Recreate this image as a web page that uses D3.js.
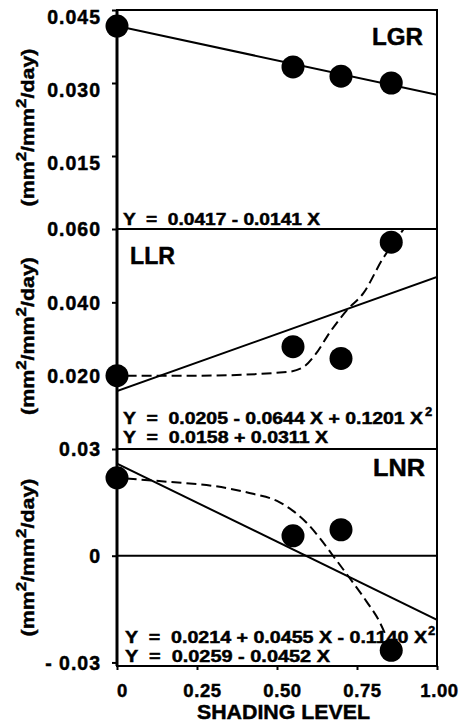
<!DOCTYPE html>
<html>
<head>
<meta charset="utf-8">
<script src="https://cdn.jsdelivr.net/npm/d3@7/dist/d3.min.js"></script>
<style>
  body { margin: 0; background: #fff; }
  svg { display: block; }
  text { font-family: "Liberation Sans", Arial, sans-serif; font-weight: bold; fill: #000;
         stroke: #000; stroke-width: 0.45px; }
</style>
</head>
<body>
<svg width="460" height="722"></svg>
<script>
// Valeurs (niveau d'ombrage en x)
const shading = [0, 0.55, 0.70, 0.857];
const lgrValues = [0.0417, 0.0333, 0.0314, 0.0300];
const llrValues = [0.0200, 0.0279, 0.0247, 0.0564];
const lnrValues = [0.0219, 0.0056, 0.0073, -0.0266];

// droites de régression (extrémités lues à x = 0 et x = 1)
const fitX = [0, 1];
const lgrFitY = [0.0417, 0.0276];
const llrFitY = [0.0158, 0.0469];
const lnrFitY = [0.0259, -0.0180];

// courbes en tirets (points relevés le long du tracé)
const llrCurveX = [0.03, 0.26, 0.53, 0.58, 0.62, 0.665, 0.72, 0.77, 0.83, 0.875, 0.93];
const llrCurveY = [0.0200, 0.0200, 0.0210, 0.0222, 0.0258, 0.0318, 0.0380, 0.0425, 0.0518, 0.0575, 0.0640];
const lnrCurveX = [0.03, 0.156, 0.31, 0.425, 0.50, 0.55, 0.59, 0.635, 0.675, 0.728, 0.78, 0.82, 0.84];
const lnrCurveY = [0.0217, 0.0208, 0.0195, 0.0174, 0.0154, 0.0126, 0.0095, 0.0048, 0.0000, -0.0064, -0.0129, -0.0185, -0.0224];

// graduations
const xTicks = [0, 0.25, 0.5, 0.75, 1];
const xTickLabels = ["0", "0.25", "0.50", "0.75", "1.00"];
const lgrTicks = [0.045, 0.030, 0.015];
const lgrTickLabels = ["0.045", "0.030", "0.015"];
const llrTicks = [0.060, 0.040, 0.020];
const llrTickLabels = ["0.060", "0.040", "0.020"];
const lnrTicks = [0.03, 0, -0.03];
const lnrTickLabels = ["0.03", "0", "- 0.03"];

const svg = d3.select("svg");
const x = d3.scaleLinear().domain([0, 1]).range([117, 437]);

// trois panneaux empilés
const panels = [
  { name: "LGR", values: lgrValues, fitY: lgrFitY, domain: [0, 0.045], top: 10, bottom: 229,
    ticks: lgrTicks, labels: lgrTickLabels, labelShift: 7,
    nameX: 372, nameY: 45, nameLen: 51,
    eqs: [{ t: "Y  =  0.0417 - 0.0141 X", x: 123, y: 225, len: 197 }] },
  { name: "LLR", values: llrValues, fitY: llrFitY, domain: [0, 0.06], top: 229, bottom: 449,
    ticks: llrTicks, labels: llrTickLabels, labelShift: 0,
    curveX: llrCurveX, curveY: llrCurveY,
    nameX: 130, nameY: 264, nameLen: 45,
    eqs: [{ t: "Y  =  0.0205 - 0.0644 X + 0.1201 X", x: 123, y: 424, len: 300, sup: 425 },
          { t: "Y  =  0.0158 + 0.0311 X", x: 123, y: 443, len: 205 }] },
  { name: "LNR", values: lnrValues, fitY: lnrFitY, domain: [-0.031, 0.03], top: 449, bottom: 666,
    ticks: lnrTicks, labels: lnrTickLabels, labelShift: 0, zeroLine: true,
    curveX: lnrCurveX, curveY: lnrCurveY,
    nameX: 373, nameY: 476, nameLen: 52,
    eqs: [{ t: "Y  =  0.0214 + 0.0455 X - 0.1140 X", x: 125, y: 643, len: 302, sup: 428 },
          { t: "Y  =  0.0259 - 0.0452 X", x: 125, y: 662, len: 205 }] }
];

panels.forEach((p, i) => {
  const y = d3.scaleLinear().domain(p.domain).range([p.bottom, p.top]);
  const g = svg.append("g");

  g.append("clipPath").attr("id", "clip" + i)
    .append("rect").attr("x", x(0)).attr("y", p.top).attr("width", x(1) - x(0)).attr("height", p.bottom - p.top);

  // axe vertical
  const axis = d3.axisLeft(y).tickValues(p.ticks).tickSize(5)
    .tickFormat((d, k) => p.labels[k]);
  const ga = g.append("g").attr("transform", `translate(${x(0)},0)`).call(axis);
  ga.select(".domain").remove();
  ga.selectAll(".tick line").attr("stroke", "#000").attr("stroke-width", 2);
  ga.selectAll(".tick text")
    .attr("x", -16).attr("dy", "0.35em")
    .attr("transform", `translate(0,${p.labelShift})`)
    .style("font-size", "19.5px").style("letter-spacing", "1px")
    .attr("fill", "#000");

  // cadre
  g.append("rect").attr("x", x(0)).attr("y", p.top)
    .attr("width", x(1) - x(0)).attr("height", p.bottom - p.top)
    .attr("fill", "none").attr("stroke", "#000").attr("stroke-width", 2);
  g.append("line").attr("x1", x(0)).attr("x2", x(0)).attr("y1", p.top).attr("y2", p.bottom)
    .attr("stroke", "#000").attr("stroke-width", 3);

  if (p.zeroLine) {
    g.append("line").attr("x1", x(0)).attr("x2", x(1)).attr("y1", y(0)).attr("y2", y(0))
      .attr("stroke", "#000").attr("stroke-width", 2);
  }

  const plot = g.append("g").attr("clip-path", `url(#clip${i})`);

  // droite de régression
  const line = d3.line().x(d => x(d[0])).y(d => y(d[1]));
  plot.append("path").datum(fitX.map((v, k) => [v, p.fitY[k]]))
    .attr("d", line).attr("fill", "none").attr("stroke", "#000").attr("stroke-width", 2);

  // courbe quadratique en tirets
  if (p.curveX) {
    const curve = d3.line().x(d => x(d[0])).y(d => y(d[1])).curve(d3.curveMonotoneX);
    plot.append("path").datum(p.curveX.map((v, k) => [v, p.curveY[k]]))
      .attr("d", curve).attr("fill", "none").attr("stroke", "#000")
      .attr("stroke-width", 2).attr("stroke-dasharray", "10,5");
  }

  // points
  g.selectAll("circle.pt").data(shading.map((v, k) => [v, p.values[k]]))
    .join("circle").attr("class", "pt")
    .attr("cx", d => x(d[0])).attr("cy", d => y(d[1])).attr("r", 11.5).attr("fill", "#000");

  // nom du panneau
  g.append("text").attr("x", p.nameX).attr("y", p.nameY)
    .attr("textLength", p.nameLen).attr("lengthAdjust", "spacingAndGlyphs")
    .style("font-size", "23px").text(p.name);

  // équations
  p.eqs.forEach(e => {
    g.append("text").attr("x", e.x).attr("y", e.y)
      .attr("textLength", e.len).attr("lengthAdjust", "spacingAndGlyphs")
      .attr("xml:space", "preserve").style("white-space", "pre")
      .style("font-size", "16px").text(e.t);
    if (e.sup) {
      g.append("text").attr("x", e.sup).attr("y", e.y - 8).style("font-size", "13px").text("2");
    }
  });

  // titre de l'axe vertical
  const mid = (p.top + p.bottom) / 2 + (i === 0 ? 8 : (i === 1 ? -3 : 0));
  const t = g.append("text").attr("transform", `translate(34,${mid}) rotate(-90)`)
    .attr("text-anchor", "middle").attr("textLength", 158).attr("lengthAdjust", "spacingAndGlyphs")
    .style("font-size", "19px");
  t.append("tspan").text("(mm");
  t.append("tspan").attr("dy", -8).style("font-size", "15px").text("2");
  t.append("tspan").attr("dy", 8).text("/mm");
  t.append("tspan").attr("dy", -8).style("font-size", "15px").text("2");
  t.append("tspan").attr("dy", 8).text("/day)");
});

// axe horizontal
const bottomY = panels[2].bottom;
const xa = svg.append("g").attr("transform", `translate(0,${bottomY})`)
  .call(d3.axisBottom(x).tickValues(xTicks).tickSize(4).tickFormat((d, k) => xTickLabels[k]));
xa.select(".domain").remove();
xa.selectAll(".tick line").attr("stroke", "#000").attr("stroke-width", 2);
xa.selectAll(".tick text").attr("y", 18).attr("dy", "0.71em").attr("dx", (d, k) => k === 4 ? 2 : 5)
  .style("font-size", "18.5px").style("letter-spacing", "0.6px").attr("fill", "#000");

svg.append("text").attr("x", 197).attr("y", 719)
  .attr("textLength", 173).attr("lengthAdjust", "spacingAndGlyphs")
  .style("font-size", "20px").text("SHADING  LEVEL");
</script>
</body>
</html>
